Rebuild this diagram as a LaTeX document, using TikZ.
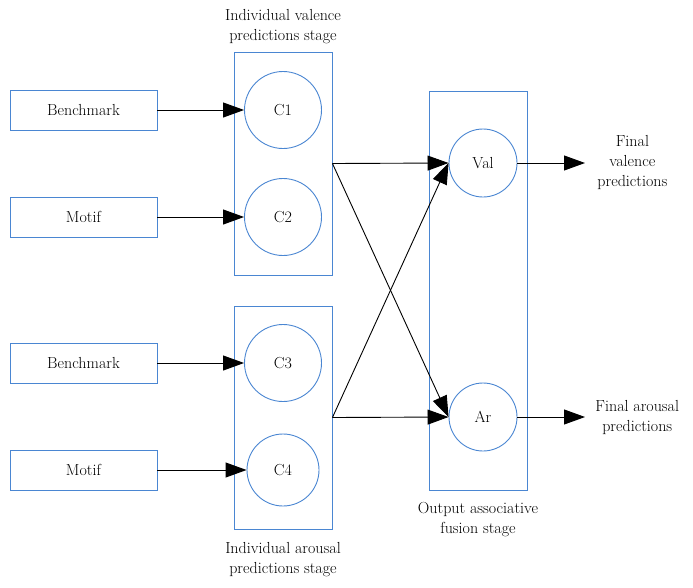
\documentclass[tikz,border=0pt]{standalone}
\usetikzlibrary{positioning,arrows.meta}
\definecolor{boxblue}{RGB}{74,134,210}

\begin{document}
\begin{tikzpicture}[x=1pt, y=-1pt, line width=0.9pt,
    font=\fontsize{16}{20}\selectfont,
    inbox/.style={draw=boxblue, minimum width=147pt, minimum height=40pt, inner sep=0pt},
    stagebox/.style={draw=boxblue, minimum width=98pt, inner sep=0pt},
    unit/.style={draw=boxblue, circle, inner sep=0pt},
    lbl/.style={align=center, inner sep=0pt},
    tip/.style={-{Triangle[length=21pt,width=15pt]}}]
  \useasboundingbox (0,0) rectangle (693,587);

  % stages
  \node[stagebox, minimum height=223pt] (valstage) at (283,163.5) {};
  \node[stagebox, minimum height=223pt] (arstage) at (283,417.5) {};
  \node[stagebox, minimum height=399pt] (fusion) at (478,290.5) {};

  % inputs
  \node[inbox] (bench1) at (83.5,110) {Benchmark};
  \node[inbox] (motif1) at (83.5,217) {Motif};
  \node[inbox] (bench2) at (83.5,363) {Benchmark};
  \node[inbox] (motif2) at (83.5,470) {Motif};

  % classifiers
  \node[unit, minimum size=77pt] (c1) at (283,110) {C1};
  \node[unit, minimum size=77pt] (c2) at (283,217) {C2};
  \node[unit, minimum size=77pt] (c3) at (283,363) {C3};
  \node[unit, minimum size=72pt] (c4) at (283,470) {C4};
  \node[unit, minimum size=68pt] (val) at (483,163) {Val};
  \node[unit, minimum size=68pt] (ar) at (483,417) {Ar};

  \coordinate (valout) at (585,163);
  \coordinate (arout) at (585,417);

  % labels
  \node[lbl, above=7pt of valstage] {Individual valence\\predictions stage};
  \node[lbl, below=12pt of arstage] {Individual arousal\\predictions stage};
  \node[lbl, below=11pt of fusion] {Output associative\\fusion stage};
  \node[lbl, right=12pt of valout] {Final\\valence\\predictions};
  \node[lbl, right=10pt of arout] {Final arousal\\predictions};

  \path[tip]
    (bench1) edge (c1)
    (motif1) edge (c2)
    (bench2) edge (c3)
    (motif2) edge (c4)

    (valstage.east) edge (val.west)
    (valstage.east) edge (ar.west)
    (arstage.east) edge (ar.west)
    (arstage.east) edge (val.west)

    (val) edge (valout)
    (ar) edge (arout);
\end{tikzpicture}
\end{document}
